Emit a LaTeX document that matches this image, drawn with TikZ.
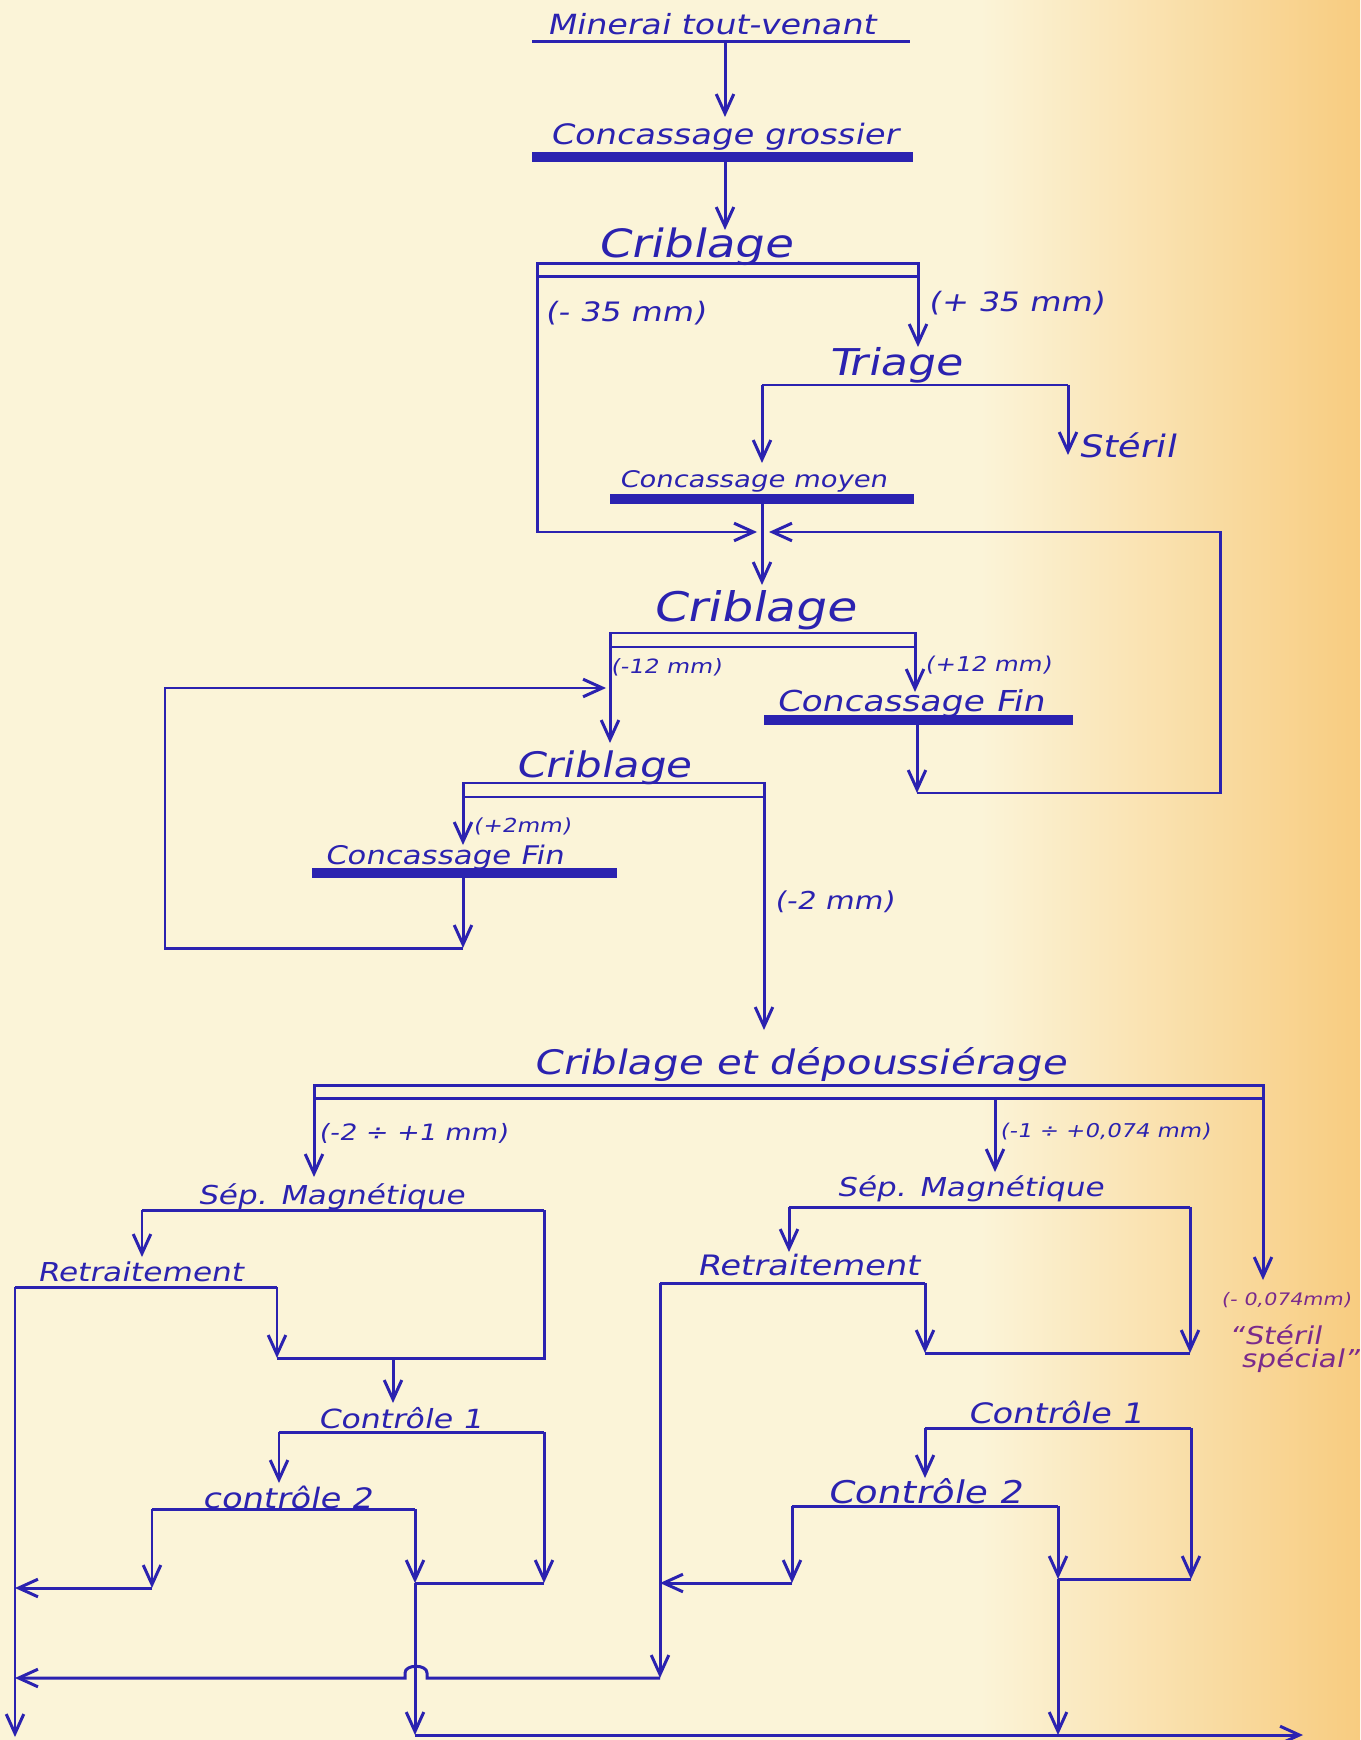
\documentclass[tikz,border=0pt]{standalone}
\usepackage{fontspec}
\setmainfont{DejaVu Sans}
\newfontfamily\hand[FakeStretch=1.2,FakeSlant=0.2]{DejaVu Sans}
\usetikzlibrary{arrows.meta}
\definecolor{inkblue}{HTML}{2B22B0}
\definecolor{inkpurple}{HTML}{7A2A8C}
\definecolor{paper}{HTML}{FBF4D8}
\definecolor{paperorange}{HTML}{F8CC80}

\begin{document}
\begin{tikzpicture}[x=0.01cm,y=-0.01cm,
    pipe/.style={draw=inkblue,line width=0.85pt},
    flow/.style={pipe,-{Straight Barb[length=5.5pt,width=5pt]}},
    bar/.style={draw=inkblue,line width=2.6pt},
    lbl/.style={text=inkblue,inner sep=0pt,font=\hand\fontsize{#1}{#1}\selectfont},
    lbl/.default=8pt]
  \fill[paper] (0,0) rectangle (1360,1740);
  \shade[left color=paper,right color=paperorange] (980,0) rectangle (1360,1740);
  \useasboundingbox (0,0) rectangle (1360,1740);

  % run-of-mine ore and coarse crushing
  \node[lbl=7.9pt] (minerai) at (711,24) {Minerai tout-venant};
  \coordinate (minL) at (532,42);
  \coordinate (minR) at (910,42);
  \coordinate (minOut) at (725,42);
  \draw[pipe] (minL) -- (minR);
  \node[lbl=8pt] (cgross) at (724,137) {Concassage grossier};
  \coordinate (cgIn) at (725,117);
  \coordinate (cgL) at (532,157);
  \coordinate (cgR) at (913,157);
  \coordinate (cgOut) at (725,157);
  \draw[bar] (cgL) -- (cgR);
  \draw[flow] (minOut) -- (cgIn);

  % screening at 35 mm
  \node[lbl=11.1pt] (crib1) at (695,247) {Criblage};
  \coordinate (cr1In) at (725,230);
  \coordinate (cr1A) at (537,264);
  \coordinate (cr1B) at (918,277);
  \draw[flow] (cgOut) -- (cr1In);
  \draw[pipe] (cr1A) rectangle (cr1B);
  \node[lbl=7.6pt] (m35) at (625,313) {(- 35 mm)};
  \node[lbl=7.6pt] (p35) at (1016,303) {(+ 35 mm)};
  \coordinate (triIn) at (918,347);
  \draw[flow] (cr1B) -- (triIn);

  % sorting
  \node[lbl=10.5pt] (triage) at (895,365) {Triage};
  \coordinate (triL) at (762,385);
  \coordinate (triR) at (1068,385);
  \coordinate (cmIn) at (762,463);
  \coordinate (sterIn) at (1068,455);
  \draw[pipe] (triL) -- (triR);
  \draw[flow] (triL) -- (cmIn);
  \draw[flow] (triR) -- (sterIn);
  \node[lbl=8.8pt] (steril) at (1127,445) {Stéril};

  % medium crushing
  \node[lbl=6.5pt] (cmoy) at (753,481) {Concassage moyen};
  \coordinate (cmL) at (610,499);
  \coordinate (cmR) at (914,499);
  \coordinate (cmOut) at (762,499);
  \coordinate (junc1W) at (757,532);
  \coordinate (junc1E) at (769,532);
  \coordinate (cr2In) at (762,585);
  \draw[bar] (cmL) -- (cmR);
  \draw[flow] (cr1A |- cr1B) |- (junc1W);
  \draw[flow] (cmOut) -- (cr2In);

  % screening at 12 mm
  \node[lbl=11.6pt] (crib2) at (754,610) {Criblage};
  \coordinate (cr2A) at (610,633);
  \coordinate (cr2B) at (915,647);
  \draw[pipe] (cr2A) rectangle (cr2B);
  \node[lbl=5.6pt] (m12) at (666,667) {(-12 mm)};
  \node[lbl=5.8pt] (p12) at (988,665) {(+12 mm)};
  \coordinate (cf1In) at (915,692);
  \draw[flow] (cr2B) -- (cf1In);
  \node[lbl=8.2pt] (cfin1) at (910,704) {Concassage Fin};
  \coordinate (cf1L) at (764,720);
  \coordinate (cf1R) at (1073,720);
  \coordinate (cf1Out) at (917,720);
  \coordinate (ret1) at (917,793);
  \coordinate (loop1) at (1220,793);
  \draw[bar] (cf1L) -- (cf1R);
  \draw[flow] (cf1Out) -- (ret1);
  \draw[flow] (ret1) -- (loop1) |- (junc1E);
  \coordinate (cr3In) at (610,743);
  \coordinate (junc2W) at (606,688);
  \draw[flow] (cr2A |- cr2B) -- (cr3In);

  % screening at 2 mm
  \node[lbl=10pt] (crib3) at (603,768) {Criblage};
  \coordinate (cr3A) at (463,783);
  \coordinate (cr3B) at (764,797);
  \coordinate (cf2In) at (463,845);
  \draw[pipe] (cr3A) rectangle (cr3B);
  \draw[flow] (cr3A |- cr3B) -- (cf2In);
  \node[lbl=5.5pt] (p2) at (522,826) {(+2mm)};
  \node[lbl=7.3pt] (cfin2) at (444,857) {Concassage Fin};
  \coordinate (cf2L) at (312,873);
  \coordinate (cf2R) at (617,873);
  \coordinate (cf2Out) at (463,873);
  \coordinate (ret2) at (463,948);
  \coordinate (loop2) at (165,948);
  \draw[bar] (cf2L) -- (cf2R);
  \draw[flow] (cf2Out) -- (ret2);
  \draw[flow] (ret2) -- (loop2) |- (junc2W);
  \coordinate (cr4In) at (764,1030);
  \draw[flow] (cr3B) -- (cr4In);
  \node[lbl=7pt] (m2) at (834,902) {(-2 mm)};

  % screening and dedusting
  \node[lbl=9.6pt] (crib4) at (800,1065) {Criblage et dépoussiérage};
  \coordinate (cr4A) at (314,1085);
  \coordinate (cr4B) at (1263,1098);
  \coordinate (cr4Mid) at (995,1098);
  \coordinate (smg1In) at (314,1177);
  \coordinate (smg2In) at (995,1172);
  \coordinate (sterSIn) at (1263,1280);
  \draw[pipe] (cr4A) rectangle (cr4B);
  \draw[flow] (cr4A |- cr4B) -- (smg1In);
  \draw[flow] (cr4Mid) -- (smg2In);
  \draw[flow] (cr4B) -- (sterSIn);
  \node[lbl=6.4pt] (g21) at (413,1133) {(-2 ÷ +1 mm)};
  \node[lbl=5.4pt] (g1074) at (1105,1132) {(-1 ÷ +0,074 mm)};
  \node[lbl=4.9pt,text=inkpurple] (g074) at (1286,1300) {(- 0,074mm)};
  \node[lbl=7pt,text=inkpurple] (stersp1) at (1275,1335) {“Stéril};
  \node[lbl=7pt,text=inkpurple] (stersp2) at (1300,1360) {spécial”};

  % magnetic line, -2 +1 mm
  \node[lbl=7.4pt] (smag1) at (331,1197) {Sép. Magnétique};
  \coordinate (sm1L) at (142,1210);
  \coordinate (sm1R) at (544,1210);
  \coordinate (rt1In) at (142,1257);
  \draw[pipe] (sm1L) -- (sm1R);
  \draw[flow] (sm1L) -- (rt1In);
  \node[lbl=7.4pt] (retr1) at (140,1272) {Retraitement};
  \coordinate (rt1L) at (15,1287);
  \coordinate (rt1R) at (277,1287);
  \coordinate (mix1W) at (277,1358);
  \coordinate (mix1E) at (544,1358);
  \coordinate (mix1Out) at (393,1358);
  \coordinate (c11In) at (393,1403);
  \draw[pipe] (rt1L) -- (rt1R);
  \draw[flow] (rt1R) -- (mix1W);
  \draw[pipe] (sm1R) -- (mix1E) -- (mix1W);
  \draw[flow] (mix1Out) -- (c11In);
  \node[lbl=7.5pt] (ctl11) at (400,1418) {Contrôle 1};
  \coordinate (c11L) at (279,1432);
  \coordinate (c11R) at (544,1432);
  \coordinate (c12In) at (279,1483);
  \draw[pipe] (c11L) -- (c11R);
  \draw[flow] (c11L) -- (c12In);
  \node[lbl=8pt] (ctl12) at (287,1497) {contrôle 2};
  \coordinate (c12L) at (152,1509);
  \coordinate (c12R) at (415,1509);
  \coordinate (c11Back) at (544,1583);
  \coordinate (conc1) at (415,1583);
  \coordinate (c12Drop) at (152,1588);
  \coordinate (tail1a) at (15,1588);
  \coordinate (tail1) at (15,1737);
  \coordinate (concB) at (415,1735);
  \coordinate (concEnd) at (1303,1735);
  \draw[pipe] (c12L) -- (c12R);
  \draw[flow] (c11R) -- (c11Back);
  \draw[pipe] (c11Back) -- (conc1);
  \draw[flow] (c12R) -- (conc1);
  \draw[flow] (c12L) -- (c12Drop);
  \draw[flow] (c12Drop) -- (tail1a);
  \draw[flow] (rt1L) -- (tail1);
  \draw[flow] (conc1) -- (concB);
  \draw[flow] (concB) -- (concEnd);

  % magnetic line, -1 +0,074 mm
  \node[lbl=7.4pt] (smag2) at (970,1189) {Sép. Magnétique};
  \coordinate (sm2L) at (789,1207);
  \coordinate (sm2R) at (1190,1207);
  \coordinate (rt2In) at (789,1252);
  \draw[pipe] (sm2L) -- (sm2R);
  \draw[flow] (sm2L) -- (rt2In);
  \node[lbl=8pt] (retr2) at (808,1265) {Retraitement};
  \coordinate (rt2L) at (660,1283);
  \coordinate (rt2R) at (925,1283);
  \coordinate (mix2W) at (925,1353);
  \coordinate (mix2E) at (1190,1353);
  \draw[pipe] (rt2L) -- (rt2R);
  \draw[flow] (rt2R) -- (mix2W);
  \draw[flow] (sm2R) -- (mix2E);
  \draw[pipe] (mix2W) -- (mix2E);
  \node[lbl=8pt] (ctl21) at (1055,1412) {Contrôle 1};
  \coordinate (c21L) at (925,1428);
  \coordinate (c21R) at (1191,1428);
  \coordinate (c22In) at (925,1478);
  \draw[pipe] (c21L) -- (c21R);
  \draw[flow] (c21L) -- (c22In);
  \node[lbl=8.9pt] (ctl22) at (925,1491) {Contrôle 2};
  \coordinate (c22L) at (792,1506);
  \coordinate (c22R) at (1058,1506);
  \coordinate (c21Back) at (1191,1579);
  \coordinate (conc2) at (1058,1579);
  \coordinate (c22Drop) at (792,1583);
  \coordinate (tail2a) at (660,1583);
  \coordinate (rt2Foot) at (660,1678);
  \coordinate (hopE) at (427,1678);
  \coordinate (hopW) at (405,1678);
  \coordinate (tail2) at (15,1678);
  \coordinate (concC) at (1058,1735);
  \draw[pipe] (c22L) -- (c22R);
  \draw[flow] (c21R) -- (c21Back);
  \draw[pipe] (c21Back) -- (conc2);
  \draw[flow] (c22R) -- (conc2);
  \draw[flow] (c22L) -- (c22Drop);
  \draw[flow] (c22Drop) -- (tail2a);
  \draw[flow] (rt2L) -- (rt2Foot);
  \draw[flow] (rt2Foot) -- (hopE) -- (427,1673) .. controls (427,1664) and (405,1664) .. (405,1673) -- (hopW) -- (tail2);
  \draw[flow] (conc2) -- (concC);
\end{tikzpicture}
\end{document}
